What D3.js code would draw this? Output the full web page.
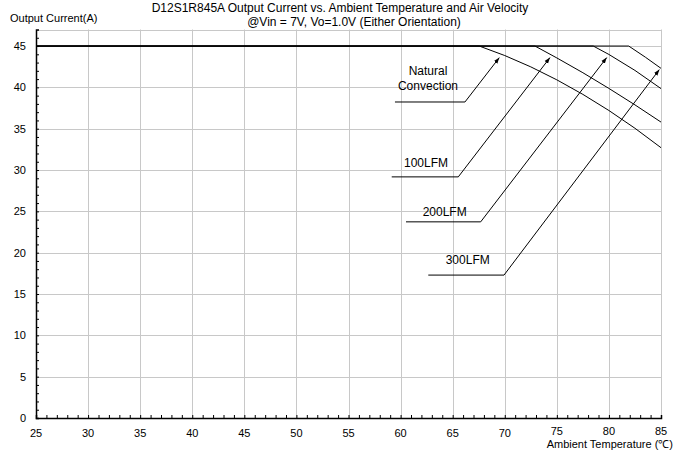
<!DOCTYPE html>
<html><head><meta charset="utf-8">
<script src="https://cdn.jsdelivr.net/npm/d3@7"></script>
<style>
html,body{margin:0;padding:0;background:#fff;}
svg{display:block;font-family:"Liberation Sans",Arial,sans-serif;}
</style></head>
<body><svg id="c" width="675" height="452"></svg>
<script>
// ---- data ----
const titleText = "D12S1R845A Output Current vs. Ambient Temperature and Air Velocity";
const subtitleText = "@Vin = 7V, Vo=1.0V (Either Orientation)";
const yTitle = "Output Current(A)";
const xTitle = "Ambient Temperature (\u2103)";
const xTicks = [25,30,35,40,45,50,55,60,65,70,75,80,85];
const yTicks = [0,5,10,15,20,25,30,35,40,45];

const seriesNames = ["Natural Convection","100LFM","200LFM","300LFM"];
const ncTemp   = [25, 67.55, 70, 72.5, 75, 77.5, 80, 82.5, 85];
const ncCurr   = [45, 45, 43.85, 42.48, 40.91, 39.15, 37.2, 35.05, 32.7];
const l100Temp = [25, 72.9, 75, 77.5, 80, 82.5, 85];
const l100Curr = [45, 45, 43.56, 41.77, 39.87, 37.88, 35.8];
const l200Temp = [25, 78.5, 80, 82.5, 85];
const l200Curr = [45, 45, 43.98, 42.05, 39.85];
const l300Temp = [25, 81.9, 83.5, 85];
const l300Curr = [45, 45, 43.65, 42.3];

// annotation leader lines (data units)
const annLabels = [["Natural","Convection"],["100LFM"],["200LFM"],["300LFM"]];
const annTextT  = [62.63, 60.33, 62.12, 64.33];
const annTextI  = [41.46, 30.38, 24.42, 18.61];
const annShelfT0= [59.46, 59.15, 60.52, 62.66];
const annShelfT1= [66.18, 65.54, 67.69, 69.93];
const annShelfI = [38.23, 29.17, 23.73, 17.29];
const annTipT   = [69.48, 74.34, 79.79, 84.84];
const annTipI   = [43.6, 43.6, 43.6, 42.15];

// ---- chart ----
const svg = d3.select("#c");
const x = d3.scaleLinear().domain([25,85]).range([36,661]);
const y = d3.scaleLinear().domain([0,47]).range([418,29.5]);

// gridlines
const grid = svg.append("g").attr("stroke","#c8c8c8").attr("stroke-width",1);
xTicks.filter(t=>t>25).forEach(t=>{
  grid.append("line").attr("x1",Math.round(x(t))+0.5).attr("x2",Math.round(x(t))+0.5)
    .attr("y1",y(47)).attr("y2",y(0));
});
yTicks.filter(t=>t>0).concat([47]).forEach(t=>{
  grid.append("line").attr("x1",x(25)).attr("x2",x(85))
    .attr("y1",Math.round(y(t))+0.5).attr("y2",Math.round(y(t))+0.5);
});

// axes
const xAxis = d3.axisBottom(x).tickValues(d3.range(25,86,1)).tickSize(-3).tickFormat("");
const gx = svg.append("g").attr("transform",`translate(0,${y(0)})`).call(xAxis);
const yAxis = d3.axisLeft(y).tickValues(d3.range(0,47,1)).tickSize(-3).tickFormat("");
const gy = svg.append("g").attr("transform",`translate(${x(25)},0)`).call(yAxis);
[gx,gy].forEach(g=>{
  g.select(".domain").attr("stroke","#000").attr("stroke-width",1.5);
  g.selectAll(".tick line").attr("stroke","#000").attr("stroke-width",1);
});

// tick labels
svg.append("g").selectAll("text").data(xTicks).join("text")
  .attr("x",d=>x(d)).attr("y",d=>d>=75?435:437).attr("text-anchor","middle")
  .attr("font-size",11).attr("fill","#000").text(d=>d);
svg.append("g").selectAll("text").data(yTicks).join("text")
  .attr("x",26).attr("y",d=>y(d)+4).attr("text-anchor","end")
  .attr("font-size",11).attr("fill","#000").text(d=>d);

// series
const series = [
  ncTemp.map((t,i)=>[t,ncCurr[i]]),
  l100Temp.map((t,i)=>[t,l100Curr[i]]),
  l200Temp.map((t,i)=>[t,l200Curr[i]]),
  l300Temp.map((t,i)=>[t,l300Curr[i]])
];
const line = d3.line().x(d=>x(d[0])).y(d=>y(d[1]));
svg.append("g").selectAll("path").data(series).join("path")
  .attr("d",line).attr("fill","none").attr("stroke","#000").attr("stroke-width",1);

// arrow marker
svg.append("defs").append("marker").attr("id","arr")
  .attr("viewBox","0 0 10 10").attr("refX",10).attr("refY",5)
  .attr("markerWidth",6).attr("markerHeight",6).attr("orient","auto")
  .append("path").attr("d","M0,1.5 L10,5 L0,8.5 Z").attr("fill","#000");

// annotations
const ann = svg.append("g");
annLabels.forEach((lbl,i)=>{
  ann.append("path")
    .attr("d",`M${x(annShelfT0[i])},${y(annShelfI[i])} L${x(annShelfT1[i])},${y(annShelfI[i])} L${x(annTipT[i])},${y(annTipI[i])}`)
    .attr("fill","none").attr("stroke","#000").attr("stroke-width",1)
    .attr("marker-end","url(#arr)");
  if(lbl.length>1){
    lbl.forEach((s,j)=>{
      ann.append("text").attr("x",x(annTextT[i])).attr("y",y(annTextI[i])+j*15)
        .attr("text-anchor","middle").attr("font-size",12).attr("fill","#000").text(s);
    });
  } else {
    ann.append("text").attr("x",x(annTextT[i])).attr("y",y(annTextI[i]))
      .attr("text-anchor","start").attr("font-size",12).attr("fill","#000").text(lbl[0]);
  }
});

// titles
svg.append("text").attr("x",340).attr("y",11.5).attr("text-anchor","middle")
  .attr("font-size",12).attr("fill","#000").text(titleText);
svg.append("text").attr("x",354).attr("y",25.5).attr("text-anchor","middle")
  .attr("font-size",12).attr("fill","#000").text(subtitleText);
svg.append("text").attr("x",10).attr("y",22).attr("text-anchor","start")
  .attr("font-size",11).attr("fill","#000").text(yTitle);
svg.append("text").attr("x",673).attr("y",448).attr("text-anchor","end")
  .attr("font-size",11).attr("fill","#000").text(xTitle);
</script></body></html>
